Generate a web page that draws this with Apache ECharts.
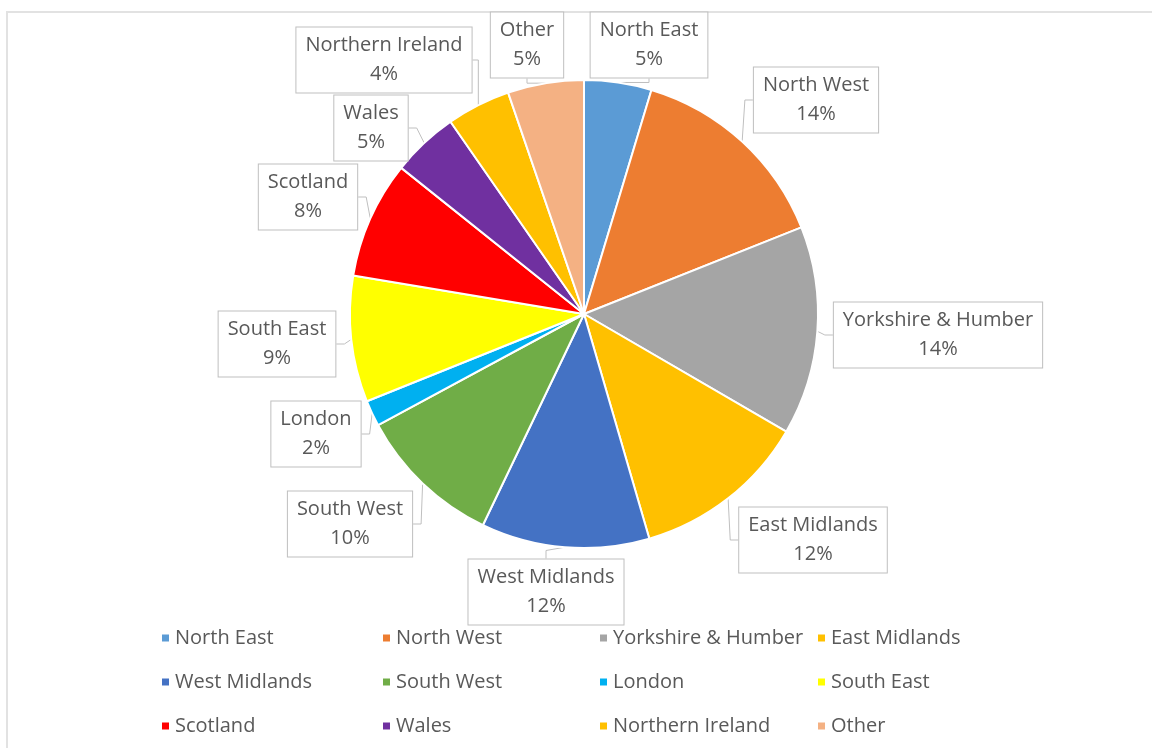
<!DOCTYPE html>
<html>
<head>
<meta charset="utf-8">
<script src="https://cdn.jsdelivr.net/npm/echarts@6/dist/echarts.min.js"></script>
<style>
  html, body { margin: 0; padding: 0; background: #fff; }
  #frame { position: absolute; left: 6px; top: 11px; width: 1146px; height: 737px;
           border-left: 2px solid #e2e2e2; border-top: 2px solid #e2e2e2; }
  #main { position: absolute; left: 0; top: 0; width: 1152px; height: 748px; }
</style>
</head>
<body>
<div id="frame"></div>
<div id="main"></div>
<script>
var regions = ['North East', 'North West', 'Yorkshire & Humber', 'East Midlands',
    'West Midlands', 'South West', 'London', 'South East',
    'Scotland', 'Wales', 'Northern Ireland', 'Other'];
var shares = [4.65, 14.3, 14.4, 12.1, 11.6, 10.0, 1.8, 8.7, 8.1, 4.6, 4.4, 5.25];
var colors = ['#5B9BD5', '#ED7D31', '#A5A5A5', '#FFC000', '#4472C4', '#70AD47',
    '#00B0F0', '#FFFF00', '#FF0000', '#7030A0', '#FFC000', '#F4B183'];

// callout box centres (Excel places them by hand)
var labelPos = [[649, 45], [816, 100], [938, 335], [813, 540], [546, 592], [350, 524],
    [316, 434], [277, 344], [308, 197], [371, 128], [384, 60], [527, 45]];

// legend columns, top-to-bottom
var legendCols = [
    ['North East', 'West Midlands', 'Scotland'],
    ['North West', 'South West', 'Wales'],
    ['Yorkshire & Humber', 'London', 'Northern Ireland'],
    ['East Midlands', 'South East', 'Other']
];
var legendLeft = [155, 376, 593, 811];

var textColor = '#595959';
var font = '"Open Sans", sans-serif';

var myChart = echarts.init(document.getElementById('main'));

var option = {
    color: colors,
    legend: legendCols.map(function (col, i) {
        return {
            data: col,
            orient: 'vertical',
            left: legendLeft[i],
            top: 623,
            itemGap: 24,
            itemWidth: 9,
            itemHeight: 9,
            icon: 'rect',
            selectedMode: false,
            textStyle: { color: textColor, fontSize: 20, fontFamily: font }
        };
    }),
    series: [{
        type: 'pie',
        center: [584, 314],
        radius: 234,
        startAngle: 90,
        clockwise: true,
        animation: false,
        itemStyle: { borderColor: '#fff', borderWidth: 2 },
        label: {
            show: true,
            formatter: function (p) { return p.name + '\n' + Math.round(p.percent) + '%'; },
            color: textColor,
            fontSize: 20,
            fontFamily: font,
            lineHeight: 29,
            align: 'center',
            backgroundColor: '#fff',
            borderColor: '#bfbfbf',
            borderWidth: 1,
            padding: [4, 9, 3, 9]
        },
        labelLine: {
            show: true,
            length: 8,
            length2: 8,
            lineStyle: { color: '#bfbfbf', width: 1 }
        },
        labelLayout: function (params) {
            var pos = labelPos[params.dataIndex];
            return { x: pos[0], y: pos[1], align: 'center', verticalAlign: 'middle' };
        },
        data: regions.map(function (r, i) { return { name: r, value: shares[i] }; })
    }]
};

myChart.setOption(option);
</script>
</body>
</html>
